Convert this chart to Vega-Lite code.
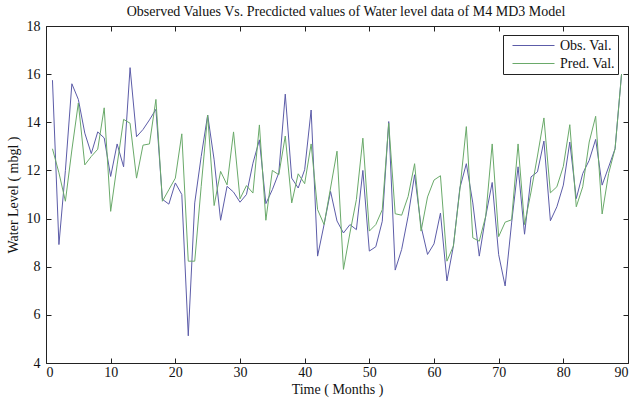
{
  "$schema": "https://vega.github.io/schema/vega-lite/v6.json",
  "width": 582,
  "height": 337,
  "autosize": {"type": "none"},
  "padding": {"left": 46, "top": 26, "right": 9, "bottom": 40},
  "title": {"text": "Observed Values Vs. Precdicted values of Water level data of M4 MD3 Model", "font": "Liberation Serif", "fontSize": 14, "fontWeight": "normal", "color": "#111", "offset": 0, "anchor": "middle", "dx": 9},
  "config": {
    "view": {"stroke": "#222", "strokeWidth": 1},
    "axis": {"labelFont": "Liberation Serif", "labelFontSize": 14, "labelColor": "#111", "titleFont": "Liberation Serif", "titleFontSize": 14, "titleFontWeight": "normal", "titleColor": "#111", "tickColor": "#222", "tickWidth": 1, "domain": false, "grid": false, "ticks": true, "tickSize": 5, "offset": -5, "zindex": 1}
  },
  "data": {"values": [
    {"month": 1, "obs": 15.75, "pred": 12.9},
    {"month": 2, "obs": 8.92, "pred": 11.9},
    {"month": 3, "obs": 12.0, "pred": 10.72},
    {"month": 4, "obs": 15.6, "pred": 12.85},
    {"month": 5, "obs": 14.95, "pred": 14.8},
    {"month": 6, "obs": 13.55, "pred": 12.23},
    {"month": 7, "obs": 12.7, "pred": 12.58},
    {"month": 8, "obs": 13.6, "pred": 12.88},
    {"month": 9, "obs": 13.35, "pred": 14.6},
    {"month": 10, "obs": 11.75, "pred": 10.3},
    {"month": 11, "obs": 13.1, "pred": 12.23},
    {"month": 12, "obs": 12.15, "pred": 14.12},
    {"month": 13, "obs": 16.27, "pred": 13.96},
    {"month": 14, "obs": 13.4, "pred": 11.68},
    {"month": 15, "obs": 13.7, "pred": 13.05},
    {"month": 16, "obs": 14.1, "pred": 13.1},
    {"month": 17, "obs": 14.54, "pred": 14.95},
    {"month": 18, "obs": 10.8, "pred": 10.72},
    {"month": 19, "obs": 10.6, "pred": 11.2},
    {"month": 20, "obs": 11.48, "pred": 11.68},
    {"month": 21, "obs": 11.0, "pred": 13.52},
    {"month": 22, "obs": 5.13, "pred": 8.23},
    {"month": 23, "obs": 10.65, "pred": 8.23},
    {"month": 24, "obs": 12.58, "pred": 11.34},
    {"month": 25, "obs": 14.3, "pred": 14.3},
    {"month": 26, "obs": 12.44, "pred": 10.54},
    {"month": 27, "obs": 9.93, "pred": 11.96},
    {"month": 28, "obs": 11.34, "pred": 11.4},
    {"month": 29, "obs": 11.1, "pred": 13.6},
    {"month": 30, "obs": 10.68, "pred": 10.82},
    {"month": 31, "obs": 11.0, "pred": 11.37},
    {"month": 32, "obs": 12.3, "pred": 11.06},
    {"month": 33, "obs": 13.27, "pred": 13.89},
    {"month": 34, "obs": 10.62, "pred": 9.93},
    {"month": 35, "obs": 11.2, "pred": 12.0},
    {"month": 36, "obs": 11.9, "pred": 11.82},
    {"month": 37, "obs": 15.17, "pred": 13.43},
    {"month": 38, "obs": 11.68, "pred": 10.65},
    {"month": 39, "obs": 11.27, "pred": 11.86},
    {"month": 40, "obs": 12.03, "pred": 11.45},
    {"month": 41, "obs": 14.51, "pred": 13.1},
    {"month": 42, "obs": 8.44, "pred": 10.37},
    {"month": 43, "obs": 9.75, "pred": 9.75},
    {"month": 44, "obs": 11.13, "pred": 11.27},
    {"month": 45, "obs": 9.9, "pred": 12.8},
    {"month": 46, "obs": 9.4, "pred": 7.89},
    {"month": 47, "obs": 9.75, "pred": 9.4},
    {"month": 48, "obs": 9.54, "pred": 10.79},
    {"month": 49, "obs": 12.0, "pred": 13.34},
    {"month": 50, "obs": 8.65, "pred": 9.48},
    {"month": 51, "obs": 8.83, "pred": 9.75},
    {"month": 52, "obs": 9.89, "pred": 10.37},
    {"month": 53, "obs": 14.03, "pred": 13.96},
    {"month": 54, "obs": 7.86, "pred": 10.2},
    {"month": 55, "obs": 8.72, "pred": 10.14},
    {"month": 56, "obs": 10.1, "pred": 10.92},
    {"month": 57, "obs": 11.82, "pred": 12.28},
    {"month": 58, "obs": 9.68, "pred": 9.48},
    {"month": 59, "obs": 8.51, "pred": 10.9},
    {"month": 60, "obs": 8.95, "pred": 11.6},
    {"month": 61, "obs": 10.23, "pred": 11.78},
    {"month": 62, "obs": 7.41, "pred": 8.23},
    {"month": 63, "obs": 8.86, "pred": 8.86},
    {"month": 64, "obs": 11.27, "pred": 11.2},
    {"month": 65, "obs": 12.28, "pred": 13.82},
    {"month": 66, "obs": 10.65, "pred": 9.2},
    {"month": 67, "obs": 8.44, "pred": 9.06},
    {"month": 68, "obs": 10.1, "pred": 10.1},
    {"month": 69, "obs": 11.5, "pred": 13.1},
    {"month": 70, "obs": 8.5, "pred": 9.25},
    {"month": 71, "obs": 7.2, "pred": 9.85},
    {"month": 72, "obs": 9.82, "pred": 9.95},
    {"month": 73, "obs": 12.15, "pred": 13.1},
    {"month": 74, "obs": 9.35, "pred": 9.75},
    {"month": 75, "obs": 11.73, "pred": 11.1},
    {"month": 76, "obs": 11.94, "pred": 12.6},
    {"month": 77, "obs": 13.22, "pred": 14.18},
    {"month": 78, "obs": 9.91, "pred": 11.07},
    {"month": 79, "obs": 10.49, "pred": 11.32},
    {"month": 80, "obs": 11.39, "pred": 12.17},
    {"month": 81, "obs": 13.18, "pred": 13.9},
    {"month": 82, "obs": 10.83, "pred": 10.49},
    {"month": 83, "obs": 11.87, "pred": 11.32},
    {"month": 84, "obs": 12.42, "pred": 13.18},
    {"month": 85, "obs": 13.29, "pred": 14.25},
    {"month": 86, "obs": 11.39, "pred": 10.19},
    {"month": 87, "obs": 12.14, "pred": 11.87},
    {"month": 88, "obs": 12.9, "pred": 12.9},
    {"month": 89, "obs": 16.0, "pred": 16.0}
  ]},
  "transform": [{"fold": ["obs", "pred"], "as": ["series", "value"]}],
  "layer": [
    {
      "mark": {"type": "line", "strokeWidth": 1},
      "encoding": {
        "x": {"field": "month", "type": "quantitative", "scale": {"domain": [0, 90], "nice": false, "zero": false},
              "axis": {"orient": "bottom", "values": [0, 10, 20, 30, 40, 50, 60, 70, 80, 90], "title": "Time ( Months )", "labelPadding": 2, "titlePadding": 3}},
        "y": {"field": "value", "type": "quantitative", "scale": {"domain": [4, 18], "nice": false, "zero": false},
              "axis": {"orient": "left", "values": [4, 6, 8, 10, 12, 14, 16, 18], "title": "Water Level ( mbgl )", "labelPadding": 6, "titlePadding": 6}},
        "color": {"field": "series", "type": "nominal", "scale": {"domain": ["obs", "pred"], "range": ["#5c5ca8", "#6aaa6a"]},
                  "legend": {"orient": "none", "legendX": 457, "legendY": 9, "title": null,
                             "labelExpr": "datum.label == 'obs' ? 'Obs. Val.' : 'Pred. Val.'",
                             "labelFont": "Liberation Serif", "labelFontSize": 14, "labelColor": "#111",
                             "symbolType": "M-1,0H5", "symbolSize": 196, "symbolStrokeWidth": 1, "symbolOffset": 6,
                             "strokeColor": "#222", "fillColor": "white", "padding": 3, "rowPadding": 3, "labelOffset": 33, "cornerRadius": 0}}
      }
    },
    {
      "mark": {"type": "line", "opacity": 0},
      "encoding": {
        "x": {"field": "month", "type": "quantitative", "axis": {"orient": "top", "values": [0, 10, 20, 30, 40, 50, 60, 70, 80, 90], "labels": false, "title": null}},
        "y": {"field": "value", "type": "quantitative", "axis": {"orient": "right", "values": [4, 6, 8, 10, 12, 14, 16, 18], "labels": false, "title": null}},
        "detail": {"field": "series"}
      }
    }
  ],
  "resolve": {"axis": {"x": "independent", "y": "independent"}}
}
